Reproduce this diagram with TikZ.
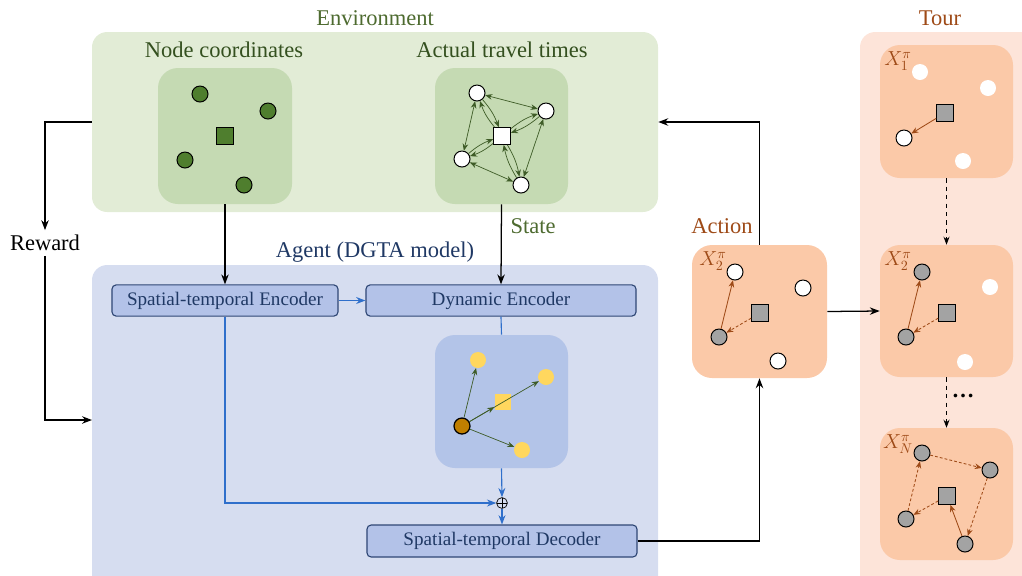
\documentclass[tikz,border=0pt]{standalone}
\usepackage{fontspec}
\setmainfont{Liberation Serif}
\usetikzlibrary{arrows.meta}
\usetikzlibrary{calc}
\usetikzlibrary{fit}
\tikzset{
  every picture/.style={font={\fontsize{16}{19}\selectfont}, >=Stealth},
  every pin edge/.style={black}}

\definecolor{envbg}{HTML}{E2ECD6}
\definecolor{envin}{HTML}{C5DAB3}
\definecolor{envtxt}{HTML}{4E6B30}
\definecolor{envdark}{HTML}{34501F}
\definecolor{gfill}{HTML}{4F7E2E}
\definecolor{garr}{HTML}{3E5C27}
\definecolor{agbg}{HTML}{D6DDF0}
\definecolor{agin}{HTML}{B3C4E8}
\definecolor{blkfill}{HTML}{B3C2E8}
\definecolor{blkline}{HTML}{2F4775}
\definecolor{agtxt}{HTML}{1F3864}
\definecolor{bluearr}{HTML}{2F6FCB}
\definecolor{yel}{HTML}{FFD75E}
\definecolor{gold}{HTML}{C07F00}
\definecolor{tourbg}{HTML}{FDE4D9}
\definecolor{tourin}{HTML}{FBC9A8}
\definecolor{brn}{HTML}{9E4A17}
\definecolor{gry}{HTML}{A3A3A3}

\begin{document}
\begin{tikzpicture}[x=0.025cm, y=-0.025cm,
    box/.style={inner sep=0pt, rounded corners=0.38cm},
    panel/.style={inner sep=0pt, rounded corners=0.5cm},
    block/.style={draw=blkline, fill=blkfill, rounded corners=3pt, line width=0.8pt,
      inner sep=0pt, text=agtxt, font={\fontsize{13.6}{16}\selectfont}},
    dot/.style={draw, circle, minimum size=0.4cm, inner sep=0pt, line width=0.7pt},
    sq/.style={draw, rectangle, minimum size=0.42cm, inner sep=0pt, line width=0.7pt},
    spot/.style={circle, fill=white, minimum size=0.4cm, inner sep=0pt},
    garrow/.style={->, garr, line width=0.5pt, >={Stealth[length=5pt, width=4pt]}},
    barrow/.style={->, bluearr, line width=0.8pt},
    tarrow/.style={->, brn, line width=0.6pt, >={Stealth[length=5pt, width=4pt]}},
    darrow/.style={tarrow, dashed, dash pattern=on 2pt off 1.5pt},
    xlabel/.style={text=brn, inner sep=0pt, font={\fontsize{14.5}{16}\selectfont}}]

    \useasboundingbox (0,0) rectangle (1022,575);

    % big boxes
    \node[box, fill=envbg, fit={(92,32) (658,212)}] (env) {};
    \node[box, fill=agbg, fit={(92,265) (658,600)}] (agent) {};
    \node[box, fill=tourbg, fit={(860,32) (1045,600)}] (tour) {};
    \coordinate (agentin) at (92,420);

    \node[text=envtxt] (envtitle) at (375,18) {Environment};
    \node[text=agtxt] (agtitle) at (375,252) {Agent (DGTA model)};
    \node[text=brn] (tourtitle) at (940,18) {Tour};
    \node[text=brn] (acttitle) at (722,226) {Action};
    \node[text=envtxt] (state) at (533,226) {State};
    \node (reward) at (45,243) {Reward};

    % environment
    \node[panel, fill=envin, fit={(158,68) (292,204)}] (ncpanel) {};
    \node[panel, fill=envin, fit={(435,68) (568,204)}] (attpanel) {};
    \node[text=envdark] (nctitle) at (224,50) {Node coordinates};
    \node[text=envdark] (atttitle) at (502,50) {Actual travel times};

    \begin{scope}[every node/.append style={fill=gfill}]
      \node[dot] (NA) at (200,94) {};
      \node[dot] (NB) at (268,111) {};
      \node[dot] (NC) at (185,160) {};
      \node[dot] (ND) at (244,185) {};
      \node[sq] (NS) at (225,136) {};
    \end{scope}

    \begin{scope}[every node/.append style={fill=white}]
      \node[dot] (TA) at (477,93) {};
      \node[dot] (TB) at (546,111) {};
      \node[dot] (TC) at (462,159) {};
      \node[dot] (TD) at (521,185) {};
      \node[sq] (TS) at (502,136) {};
    \end{scope}

    \path[garrow, <->] (TA) edge (TB) edge (TC);
    \path[garrow, <->] (TD) edge (TB) edge (TC);
    \path[garrow] (TS) edge[bend left=10] (TA) edge[bend left=10] (TB)
                       edge[bend left=10] (TC) edge[bend left=10] (TD);
    \path[garrow] (TA) edge[bend left=10] (TS);
    \path[garrow] (TB) edge[bend left=10] (TS);
    \path[garrow] (TC) edge[bend left=10] (TS);
    \path[garrow] (TD) edge[bend left=10] (TS);

    % agent
    \node[block, minimum width=5.65cm, minimum height=0.78cm] (stenc) at (225,300.5) {Spatial-temporal Encoder};
    \node[block, minimum width=6.75cm, minimum height=0.78cm] (dynenc) at (501,300.5) {Dynamic Encoder};
    \node[block, minimum width=6.75cm, minimum height=0.8cm] (dec) at (502,541) {Spatial-temporal Decoder};
    \node[draw, circle, minimum size=0.27cm, inner sep=0pt, line width=0.5pt,
      path picture={\draw[line width=0.5pt] (path picture bounding box.north) -- (path picture bounding box.south)
        (path picture bounding box.west) -- (path picture bounding box.east);}] (plus) at (502,503) {};

    \node[panel, fill=agin, fit={(435,335) (568,468)}] (agpanel) {};
    \node[circle, fill=yel, minimum size=0.4cm, inner sep=0pt] (YA) at (478,360) {};
    \node[circle, fill=yel, minimum size=0.4cm, inner sep=0pt] (YB) at (546,377) {};
    \node[circle, fill=yel, minimum size=0.4cm, inner sep=0pt] (YC) at (522,450) {};
    \node[rectangle, fill=yel, minimum size=0.42cm, inner sep=0pt] (YS) at (503,402) {};
    \node[dot, fill=gold, line width=0.9pt] (YO) at (462,426) {};
    \path[garrow] (YO) edge (YA) edge (YB) edge (YC) edge (YS);

    \draw[barrow] (stenc.east) -- (dynenc.west);
    \draw[barrow] (stenc.south) |- (plus.west);
    \draw[bluearr, line width=0.8pt] (dynenc.south) -- (agpanel.north);
    \draw[barrow] (agpanel.south) -- (plus.north);
    \draw[barrow] (plus.south) -- (dec.north);

    % action
    \node[panel, fill=tourin, fit={(692,245) (827,378)}] (action) {};
    \node[xlabel] (AL) at (713,261) {$X_2^{\pi}$};
    \node[dot, fill=white] (AA) at (735,272) {};
    \node[dot, fill=white] (AB) at (803,288) {};
    \node[sq, fill=gry] (AS) at (760,313) {};
    \node[dot, fill=gry] (AC) at (719,337) {};
    \node[dot, fill=white] (AD) at (778,361) {};
    \draw[tarrow] (AC) -- (AA);
    \draw[darrow] (AS) -- (AC);

    % tour
    \node[panel, fill=tourin, fit={(880,45) (1013,178)}] (tourA) {};
    \node[panel, fill=tourin, fit={(880,245) (1013,377)}] (tourB) {};
    \node[panel, fill=tourin, fit={(880,428) (1013,560)}] (tourC) {};

    \node[xlabel] (LA) at (898,61) {$X_1^{\pi}$};
    \node[spot] (PA) at (920,72) {};
    \node[spot] (PB) at (988,88) {};
    \node[spot] (PC) at (963,161) {};
    \node[sq, fill=gry] (PS) at (945,113) {};
    \node[dot, fill=white] (PD) at (904,138) {};
    \draw[tarrow] (PS) -- (PD);

    \node[xlabel] (LB) at (898,261) {$X_2^{\pi}$};
    \node[dot, fill=gry] (QA) at (922,272) {};
    \node[spot] (QB) at (990,287) {};
    \node[sq, fill=gry] (QS) at (947,313) {};
    \node[dot, fill=gry] (QC) at (906,337) {};
    \node[spot] (QD) at (965,362) {};
    \draw[tarrow] (QC) -- (QA);
    \draw[darrow] (QS) -- (QC);

    \node[xlabel] (LC) at (898,444) {$X_N^{\pi}$};
    \node[dot, fill=gry] (RA) at (922,453) {};
    \node[dot, fill=gry] (RB) at (990,470) {};
    \node[sq, fill=gry] (RS) at (947,496) {};
    \node[dot, fill=gry] (RC) at (906,519) {};
    \node[dot, fill=gry] (RD) at (965,544) {};
    \draw[tarrow] (RD) -- (RS);
    \draw[darrow] (RS) -- (RC);
    \draw[darrow] (RC) -- (RA);
    \draw[darrow] (RA) -- (RB);
    \draw[darrow] (RB) -- (RD);

    \node (dots) at (963,396) {\textbf{\dots}};

    % main flow
    \begin{scope}[line width=0.9pt]
      \draw[->] (ncpanel.south) -- (stenc.north);
      \draw[->] (attpanel.south) -- (dynenc.north);
      \draw[->] (env.west) -| (reward.north);
      \draw[->] (reward.south) |- (agentin);
      \draw[->] (action.north) |- (env.east);
      \draw[->] (dec.east) -| (action.south);
      \draw[->] (action.east) -- (tourB.west);
      \draw[->, dashed, line width=0.6pt] (tourA.south) -- (tourB.north);
      \draw[->, dashed, line width=0.6pt] (tourB.south) -- (tourC.north);
    \end{scope}
  \end{tikzpicture}
\end{document}
